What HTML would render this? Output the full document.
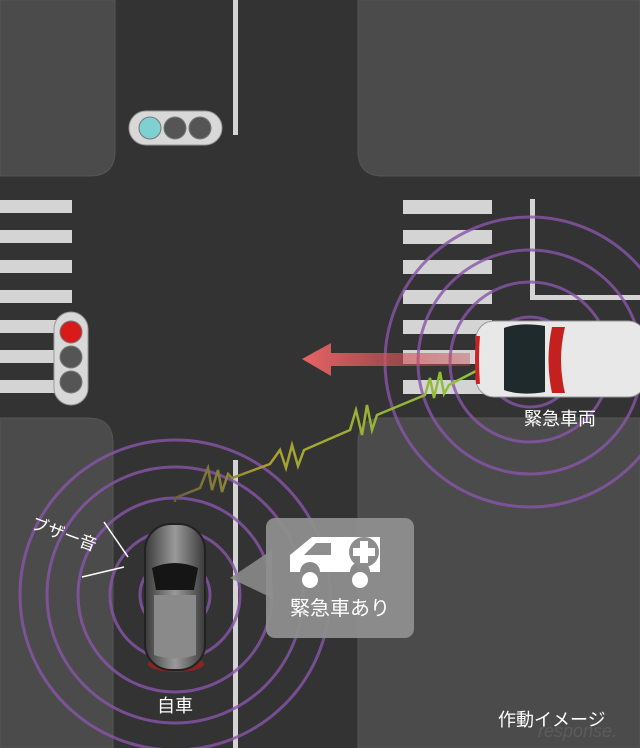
<!DOCTYPE html>
<html><head><meta charset="utf-8"><style>
html,body{margin:0;padding:0;width:640px;height:748px;overflow:hidden;background:#333;}
svg{display:block}
text{font-family:"Liberation Sans","Noto Sans CJK JP",sans-serif;fill:#fff;}
</style></head><body>
<svg width="640" height="748" viewBox="0 0 640 748" xmlns="http://www.w3.org/2000/svg">
<defs>
<linearGradient id="arr" x1="0" x2="1"><stop offset="0" stop-color="#e86466"/><stop offset="1" stop-color="#c24a50" stop-opacity="0.4"/></linearGradient>
<linearGradient id="wave" x1="0" x2="1"><stop offset="0" stop-color="#6a6040"/><stop offset="0.3" stop-color="#a8a030"/><stop offset="1" stop-color="#8cc43a"/></linearGradient>
<linearGradient id="carg" x1="0" x2="1"><stop offset="0" stop-color="#3a3a3a"/><stop offset="0.5" stop-color="#9a9a9a"/><stop offset="1" stop-color="#3a3a3a"/></linearGradient>
</defs>
<rect width="640" height="748" fill="#333333"/>
<!-- blocks -->
<g fill="#4b4b4b" stroke="#555" stroke-width="1">
<path d="M0 0H115V151Q115 176 90 176H0Z"/>
<path d="M358 0H640V176H383Q358 176 358 151Z"/>
<path d="M0 418H88Q113 418 113 443V748H0Z"/>
<path d="M383 418H640V748H358V443Q358 418 383 418Z"/>
</g>
<!-- road lines -->
<g fill="#d4d4d4">
<rect x="233" y="0" width="5" height="135"/>
<rect x="233" y="460" width="5" height="288"/>
<rect x="0" y="200" width="72" height="13"/><rect x="0" y="230" width="72" height="13"/>
<rect x="0" y="260" width="72" height="13"/><rect x="0" y="290" width="72" height="13"/>
<rect x="0" y="320" width="72" height="13"/><rect x="0" y="350" width="72" height="13"/>
<rect x="0" y="380" width="72" height="13"/>
<rect x="403" y="200" width="89" height="14"/><rect x="403" y="230" width="89" height="14"/>
<rect x="403" y="260" width="89" height="14"/><rect x="403" y="290" width="89" height="14"/>
<rect x="403" y="320" width="89" height="14"/><rect x="403" y="350" width="89" height="14"/>
<rect x="403" y="380" width="89" height="14"/>
<rect x="530" y="199" width="5" height="100"/>
<rect x="530" y="295" width="110" height="5"/>
</g>
<!-- traffic lights -->
<rect x="129" y="111" width="93" height="34" rx="17" fill="#d8d8d8" stroke="#999"/>
<circle cx="150" cy="128" r="11" fill="#7fd0d0" stroke="#777"/>
<circle cx="175" cy="128" r="11" fill="#555" stroke="#777"/>
<circle cx="200" cy="128" r="11" fill="#555" stroke="#777"/>
<rect x="54" y="312" width="34" height="93" rx="17" fill="#d8d8d8" stroke="#999"/>
<circle cx="71" cy="332" r="11" fill="#d91a1a" stroke="#777"/>
<circle cx="71" cy="357" r="11" fill="#555" stroke="#777"/>
<circle cx="71" cy="382" r="11" fill="#555" stroke="#777"/>
<!-- rings -->
<g fill="none" stroke="#8a55aa" stroke-width="3" opacity="0.8">
<circle cx="175" cy="595" r="35"/><circle cx="175" cy="595" r="65"/>
<circle cx="175" cy="595" r="97"/><circle cx="175" cy="595" r="128"/>
<circle cx="175" cy="595" r="155"/>
<circle cx="530" cy="362" r="45"/><circle cx="530" cy="362" r="80"/>
<circle cx="530" cy="362" r="112"/><circle cx="530" cy="362" r="145"/>
</g>
<!-- arrow -->
<path d="M302 359L331 343V353H470V366H331V376Z" fill="url(#arr)"/>
<!-- wave -->
<polyline fill="none" stroke="url(#wave)" stroke-width="2.5" points="175,502 175,498 200,488 208,468 212,490 218,470 222,492 228,474 232,478 270,464 280,450 286,468 292,445 298,466 304,450 350,430 356,410 362,435 367,405 372,430 377,415 425,395 430,378 434,398 440,372 444,394 449,385 478,370"/>
<!-- bubble -->
<path d="M230 578L272 550V598Z" fill="#8a8a8a" opacity="0.9"/>
<rect x="266" y="518" width="148" height="120" rx="9" fill="#8e8e8e" opacity="0.95"/>
<g fill="#fff">
<path d="M290 572V555L312 537H380V572H370A10 10 0 0 0 350 572H320A10 10 0 0 0 300 572Z"/>
<circle cx="310" cy="580" r="8"/><circle cx="360" cy="580" r="8"/>
</g>
<path d="M304 555L316 543H331V555Z" fill="#8e8e8e"/>
<circle cx="364" cy="552" r="15" fill="#8e8e8e"/>
<path d="M360 541h8v7h7v8h-7v7h-8v-7h-7v-8h7z" fill="#fff"/>
<text x="340" y="615" font-size="20" text-anchor="middle">緊急車あり</text>
<!-- own car -->
<ellipse cx="176" cy="664" rx="28" ry="8" fill="#c21a1a" opacity="0.6"/>
<rect x="145" y="524" width="60" height="146" rx="26" fill="url(#carg)" stroke="#222" stroke-width="2"/>
<path d="M152 568Q175 558 198 568L194 590H156Z" fill="#151515"/>
<path d="M154 595H196V655Q175 662 154 655Z" fill="#8a8a8a"/>
<text x="175" y="712" font-size="18" text-anchor="middle">自車</text>
<!-- buzzer -->
<line x1="104" y1="522" x2="128" y2="557" stroke="#fff" stroke-width="1.5"/>
<line x1="82" y1="577" x2="124" y2="567" stroke="#fff" stroke-width="1.5"/>
<text x="30" y="528" font-size="17" transform="rotate(20 30 528)">ブザー音</text>
<!-- ambulance -->
<rect x="476" y="321" width="170" height="76" rx="18" fill="#e8e8e8" stroke="#999"/>
<path d="M478 336Q476 358 478 384" stroke="#c22" stroke-width="4" fill="none"/>
<path d="M504 328Q520 322 545 326V392Q520 396 504 390Z" fill="#1e2a2c"/>
<path d="M552 327Q545 360 552 393H565Q557 360 565 327Z" fill="#c42020"/>
<text x="560" y="425" font-size="18" text-anchor="middle">緊急車両</text>
<!-- footer -->
<text x="498" y="726" font-size="18">作動イメージ</text>
<text x="538" y="737" font-size="18" font-style="italic" fill="#777" opacity="0.6" style="fill:#666">response.</text>
</svg>
</body></html>
